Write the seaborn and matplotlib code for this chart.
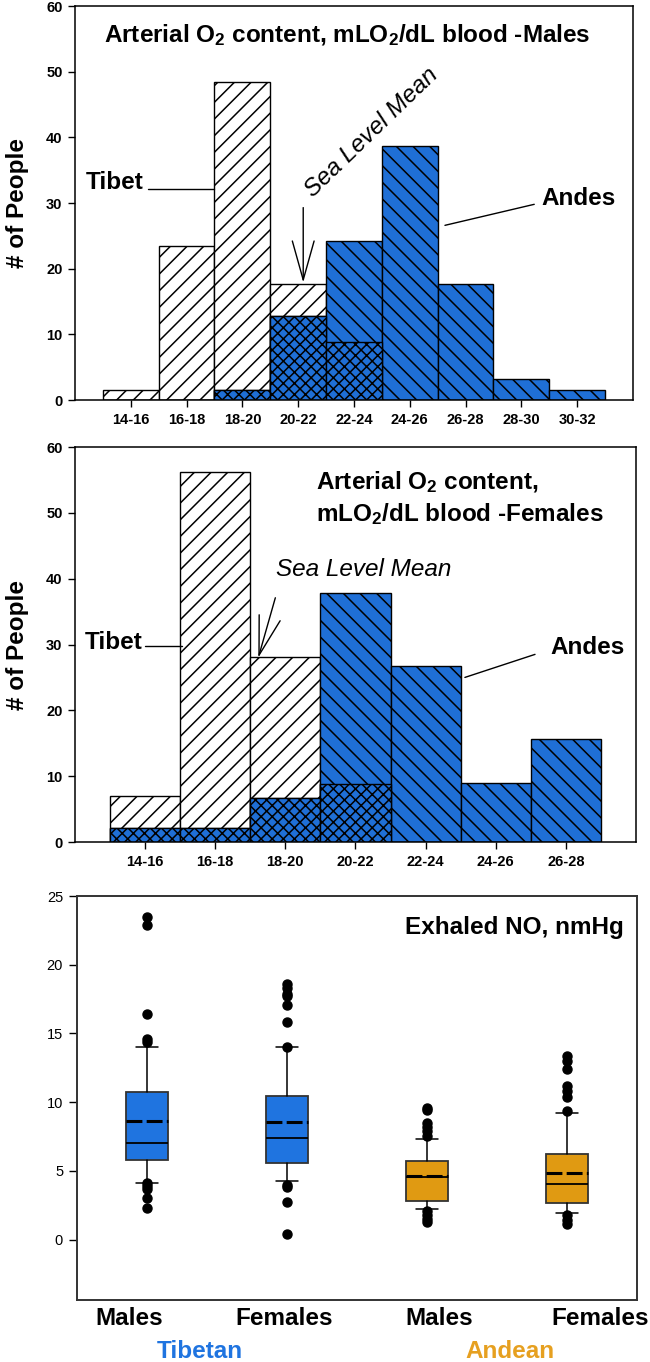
import numpy as np
import matplotlib
matplotlib.use('Agg')
import matplotlib.pyplot as plt
import seaborn as sns

# histogram data (# of people per arterial O2 content bin)
male_bins = ['14-16', '16-18', '18-20', '20-22', '22-24', '24-26', '26-28', '28-30', '30-32']
tibet_males = [1.5, 23.5, 48.5, 17.6, 8.8, 0, 0, 0, 0]
andes_males = [0, 0, 1.5, 12.8, 24.2, 38.7, 17.7, 3.2, 1.5]

female_bins = ['14-16', '16-18', '18-20', '20-22', '22-24', '24-26', '26-28']
tibet_females = [7.0, 56.2, 28.1, 8.8, 0, 0, 0]
andes_females = [2.2, 2.2, 6.7, 37.8, 26.7, 8.9, 15.6]

# exhaled NO box summary
box_groups = ['Males', 'Females', 'Males', 'Females']
box_q1 = [5.8, 5.6, 2.84, 2.67]
box_med = [7.04, 7.38, 4.54, 4.05]
box_q3 = [10.75, 10.46, 5.75, 6.19]
box_mean = [8.6, 8.54, 4.6, 4.85]
box_whislo = [4.13, 4.25, 2.23, 1.94]
box_whishi = [14.03, 14.03, 7.33, 9.22]
box_fliers = [
    [23.5, 22.9, 16.4, 14.6, 14.4, 4.1, 3.9, 3.7, 3.0, 2.3],
    [18.6, 18.3, 17.9, 17.7, 17.1, 15.8, 14.0, 4.0, 3.8, 2.7, 0.4],
    [9.6, 9.4, 8.5, 8.2, 7.9, 7.5, 2.05, 1.8, 1.5, 1.25],
    [13.35, 13.0, 12.4, 11.2, 10.8, 10.4, 9.35, 1.75, 1.45, 1.15],
]

BLUE = '#1f6fd6'
BOX_BLUE = '#1f74e0'
ORANGE = '#e09a12'
FS = 17.5

sns.set_style('ticks')
plt.rcParams['font.family'] = ['Liberation Sans', 'DejaVu Sans']
plt.rcParams['mathtext.default'] = 'regular'
plt.rcParams['hatch.linewidth'] = 1.1
plt.rcParams['axes.edgecolor'] = 'black'
plt.rcParams['axes.linewidth'] = 1.1
plt.rcParams['text.color'] = 'black'
plt.rcParams['axes.labelcolor'] = 'black'
plt.rcParams['xtick.color'] = 'black'
plt.rcParams['ytick.color'] = 'black'


def bar_layer(ax, bins, vals, face, hatch):
    n0 = len(ax.patches)
    sns.barplot(x=bins, y=list(vals), order=bins, color=face, saturation=1,
                width=1, edgecolor='black', linewidth=1.0, errorbar=None, ax=ax)
    for p in ax.patches[n0:]:
        p.set_hatch(hatch)


def hist_panel(ax, bins, tibet, andes):
    # overlap of both groups is drawn cross-hatched
    overlap = np.minimum(tibet, andes)
    bar_layer(ax, bins, tibet, 'white', '//')
    bar_layer(ax, bins, andes, BLUE, '\\\\')
    bar_layer(ax, bins, overlap, BLUE, 'xxx')
    ax.set_xlim(-1, len(bins))
    ax.set_ylim(0, 60)
    ax.set_yticks(range(0, 61, 10))
    ax.set_xlabel('')
    ax.set_ylabel('')
    ax.tick_params(axis='both', direction='out', length=5, width=1, pad=4)
    for lab in ax.get_xticklabels() + ax.get_yticklabels():
        lab.set_fontweight('bold')
        lab.set_fontsize(10.5)


fig = plt.figure(figsize=(6.5, 13.62), dpi=100)

# top: males
ax1 = fig.add_axes([0.11538, 0.70631, 0.85846, 0.28928])
hist_panel(ax1, male_bins, tibet_males, andes_males)
ax1.text(0.487, 0.925, 'Arterial O$_2$ content, mLO$_2$/dL blood -Males',
         transform=ax1.transAxes, ha='center', va='center', fontsize=FS, fontweight='bold')
ax1.text(0.23, 33.1, 'Tibet', ha='right', va='center', fontsize=FS, fontweight='bold')
ax1.plot([0.30, 1.5], [32.2, 32.2], color='black', lw=1)
ax1.text(8.02, 30.7, 'Andes', ha='center', va='center', fontsize=FS, fontweight='bold')
ax1.plot([7.23, 5.63], [29.8, 26.6], color='black', lw=1)
ax1.text(4.32, 40.8, 'Sea Level Mean', ha='center', va='center', rotation=44,
         rotation_mode='anchor', fontsize=FS, fontstyle='italic')
ax1.annotate('', xy=(3.09, 17.9), xytext=(3.09, 29.3),
             arrowprops=dict(arrowstyle='->,head_length=1.0,head_width=0.28',
                             mutation_scale=28, lw=1, color='black', shrinkA=0, shrinkB=0))

# middle: females
ax2 = fig.add_axes([0.11538, 0.38179, 0.86308, 0.29001])
hist_panel(ax2, female_bins, tibet_females, andes_females)
ax2.text(2.44, 54.6, 'Arterial O$_2$ content,', ha='left', va='center',
         fontsize=FS, fontweight='bold')
ax2.text(2.44, 49.8, 'mLO$_2$/dL blood -Females', ha='left', va='center',
         fontsize=FS, fontweight='bold')
ax2.text(1.87, 41.4, 'Sea Level Mean', ha='left', va='center', fontsize=FS, fontstyle='italic')
ax2.annotate('', xy=(1.614, 28.0), xytext=(1.857, 37.1),
             arrowprops=dict(arrowstyle='->,head_length=1.0,head_width=0.28',
                             mutation_scale=28, lw=1, color='black', shrinkA=0, shrinkB=0))
ax2.text(-0.04, 30.3, 'Tibet', ha='right', va='center', fontsize=FS, fontweight='bold')
ax2.plot([0.0, 0.53], [29.7, 29.7], color='black', lw=1)
ax2.text(6.31, 29.5, 'Andes', ha='center', va='center', fontsize=FS, fontweight='bold')
ax2.plot([5.56, 4.56], [28.5, 25.0], color='black', lw=1)

for ax in (ax1, ax2):
    fig.text(18 / 650, 0.5, '# of People', rotation=90, ha='center', va='center',
             fontsize=FS, fontweight='bold',
             transform=matplotlib.transforms.blended_transform_factory(fig.transFigure, ax.transAxes))

# bottom: exhaled NO
ax3 = fig.add_axes([0.11846, 0.04552, 0.86154, 0.29662])
stats = []
for i in range(len(box_groups)):
    stats.append(dict(label=box_groups[i], q1=box_q1[i], med=box_med[i], q3=box_q3[i],
                      mean=box_mean[i], whislo=box_whislo[i], whishi=box_whishi[i],
                      fliers=box_fliers[i]))
res = ax3.bxp(stats, positions=range(len(stats)), widths=0.3, capwidths=0.16,
              patch_artist=True, showmeans=True, meanline=True,
              boxprops=dict(edgecolor='#333333', linewidth=1.3),
              medianprops=dict(color='black', linewidth=1.3),
              meanprops=dict(color='black', linewidth=2.2, linestyle=(0, (5.2, 1.4))),
              whiskerprops=dict(color='black', linewidth=1.1),
              capprops=dict(color='black', linewidth=1.1),
              flierprops=dict(marker='o', markerfacecolor='black', markeredgecolor='black',
                              markersize=6.5))
for patch, c in zip(res['boxes'], [BOX_BLUE, BOX_BLUE, ORANGE, ORANGE]):
    patch.set_facecolor(c)
ax3.set_xlim(-0.5, 3.5)
ax3.set_ylim(-4.4, 25)
ax3.set_yticks(range(0, 26, 5))
ax3.set_xticks([-0.13, 0.98, 2.09, 3.24])
ax3.set_xticklabels(box_groups, fontsize=FS, fontweight='bold')
ax3.tick_params(axis='x', length=0, pad=5)
ax3.tick_params(axis='y', direction='out', length=6, width=1, pad=4, labelsize=10.5)
for s in ax3.spines.values():
    s.set_color('#333333')
    s.set_linewidth(1.4)
ax3.text(0.977, 0.921, 'Exhaled NO, nmHg', transform=ax3.transAxes, ha='right', va='center',
         fontsize=FS, fontweight='bold')

fig.text(200 / 650, 1 - 1352 / 1362, 'Tibetan', ha='center', va='center',
         fontsize=FS, fontweight='bold', color=BOX_BLUE)
fig.text(510 / 650, 1 - 1352 / 1362, 'Andean', ha='center', va='center',
         fontsize=FS, fontweight='bold', color='#e6a020')

fig.savefig('out.png', dpi=100)
